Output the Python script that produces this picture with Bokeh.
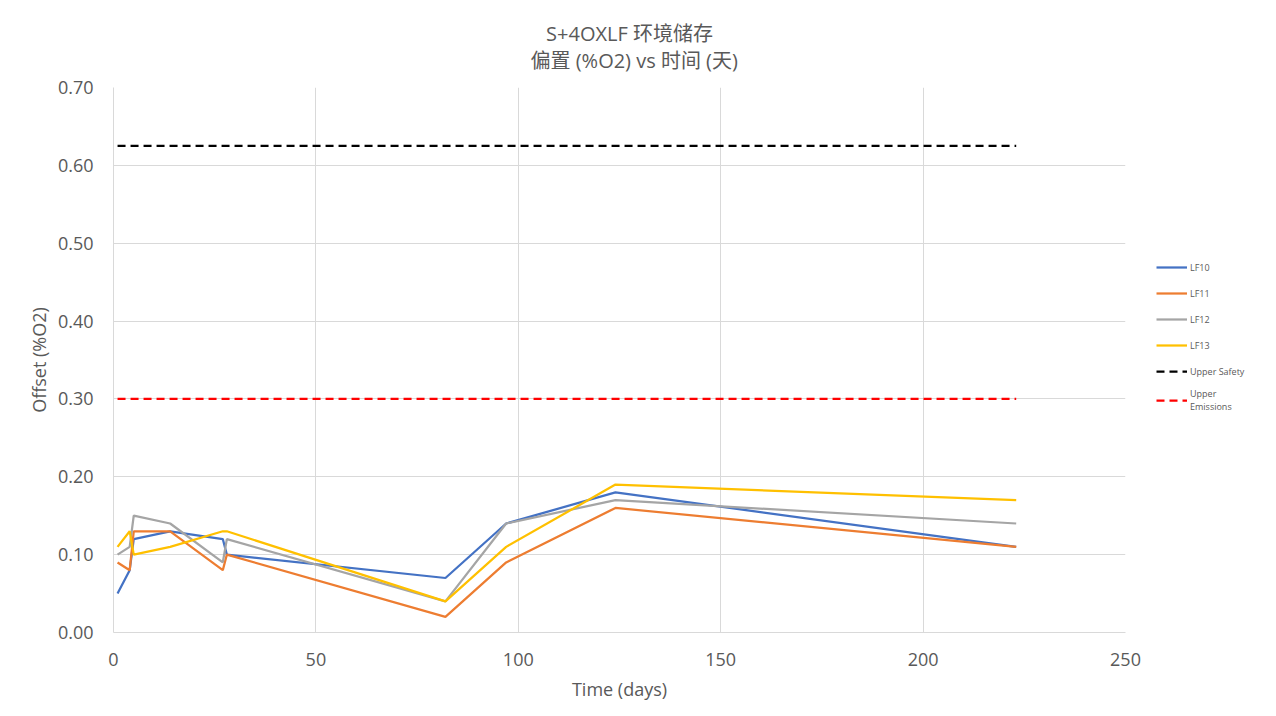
from bokeh.plotting import figure
from bokeh.models import Legend, LegendItem, NumeralTickFormatter, FixedTicker, Range1d
from bokeh.embed import file_html
from bokeh.resources import INLINE

days = [1, 4, 5, 14, 27, 28, 82, 97, 124, 223]
lf10 = [0.05, 0.08, 0.12, 0.13, 0.12, 0.10, 0.07, 0.14, 0.18, 0.11]
lf11 = [0.09, 0.08, 0.13, 0.13, 0.08, 0.10, 0.02, 0.09, 0.16, 0.11]
lf12 = [0.10, 0.11, 0.15, 0.14, 0.09, 0.12, 0.04, 0.14, 0.17, 0.14]
lf13 = [0.11, 0.13, 0.10, 0.11, 0.13, 0.13, 0.04, 0.11, 0.19, 0.17]
limit_days = [1, 223]
upper_safety = [0.625, 0.625]
upper_emissions = [0.30, 0.30]
x_ticks = [0, 50, 100, 150, 200, 250]
y_ticks = [0.0, 0.1, 0.2, 0.3, 0.4, 0.5, 0.6, 0.7]
title_lines = ["S+4OXLF 环境储存", "偏置 (%O2) vs 时间 (天)"]

FONT = "'Open Sans', 'Noto Sans CJK SC', sans-serif"
GREY = "#595959"

p = figure(frame_width=1012, frame_height=545, output_backend="svg", toolbar_location=None,
           x_range=Range1d(0, 250), y_range=Range1d(0, 0.7),
           min_border_left=113, min_border_right=0, min_border_top=87, min_border_bottom=84)
p.outline_line_color = None
# first line indented with non-breaking spaces so that both lines look centred
p.title.text = "\u00a0\u00a0\u00a0" + title_lines[0] + "\n" + title_lines[1]
p.title.align = "left"
p.title.offset = 417
p.title.text_font = FONT
p.title.text_font_size = "20px"
p.title.text_font_style = "normal"
p.title.text_color = GREY
p.title.standoff = 28

for ax in (p.xaxis[0], p.yaxis[0]):
    ax.major_label_text_font = FONT
    ax.major_label_text_font_size = "18px"
    ax.major_label_text_color = GREY
    ax.axis_label_text_font = FONT
    ax.axis_label_text_font_size = "18px"
    ax.axis_label_text_font_style = "normal"
    ax.axis_label_text_color = GREY
    ax.major_tick_line_color = None
    ax.minor_tick_line_color = None
    ax.axis_line_color = "#d9d9d9"
p.xaxis.axis_label = "Time (days)"
p.yaxis.axis_label = "Offset (%O2)"
p.xaxis.major_label_standoff = 14
p.yaxis.major_label_standoff = 14
p.xaxis.axis_label_standoff = 8
p.yaxis.axis_label_standoff = 4
p.xaxis.ticker = FixedTicker(ticks=x_ticks)
p.yaxis.ticker = FixedTicker(ticks=y_ticks)
p.yaxis.formatter = NumeralTickFormatter(format="0.00")
p.xgrid.grid_line_color = "#d9d9d9"
p.ygrid.grid_line_color = "#d9d9d9"

series = [("LF10", lf10, "#4472C4"), ("LF11", lf11, "#ED7D31"),
          ("LF12", lf12, "#A5A5A5"), ("LF13", lf13, "#FFC000")]
items = []
for name, vals, col in series:
    r = p.line(days, vals, line_color=col, line_width=2.25)
    items.append(LegendItem(label=name, renderers=[r]))
r1 = p.line(limit_days, upper_safety, line_color="black", line_width=2.25, line_dash="8 5")
items.append(LegendItem(label="Upper Safety", renderers=[r1]))
r2 = p.line(limit_days, upper_emissions, line_color="#FF0000", line_width=2.25, line_dash="8 5")
items.append(LegendItem(label="Upper\nEmissions", renderers=[r2]))

legend = Legend(items=items, location=(31, 219))
legend.label_text_font = FONT
legend.label_text_font_size = "9px"
legend.label_text_color = GREY
legend.glyph_width = 31
legend.label_standoff = 3
legend.label_height = 20
legend.spacing = 6
legend.margin = 0
legend.border_line_color = None
legend.background_fill_alpha = 0
p.add_layout(legend, "right")

open("out.html", "w").write(file_html(p, INLINE))
